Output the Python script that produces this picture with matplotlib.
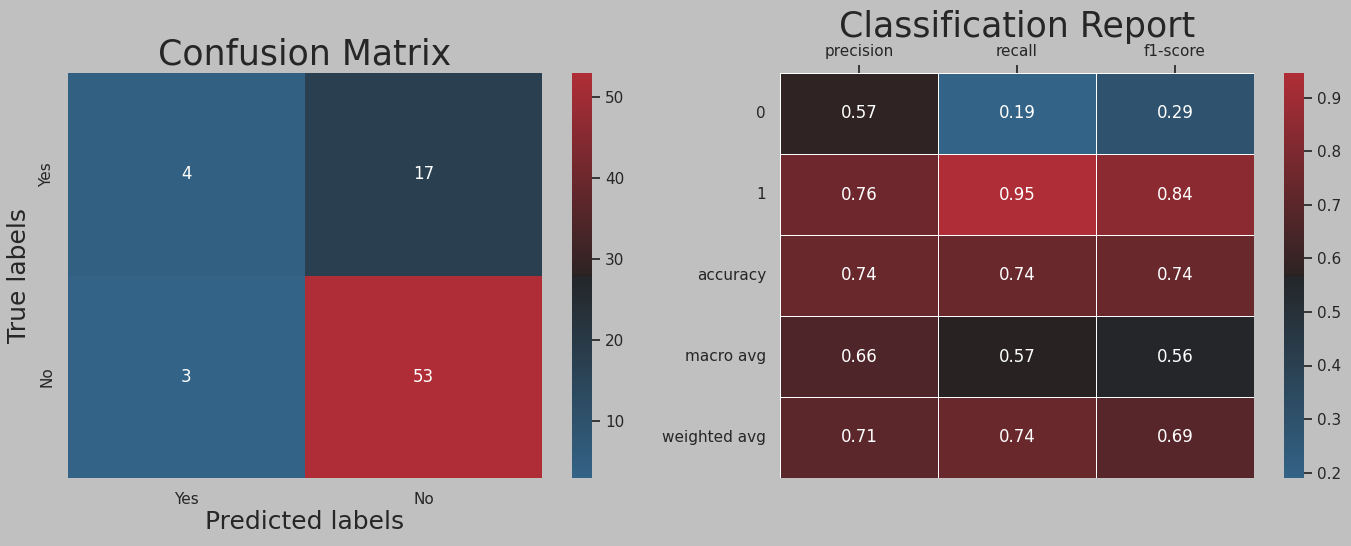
import numpy as np
import pandas as pd
import seaborn as sns
import matplotlib.pyplot as plt

# confusion matrix values
cm_labels = ["Yes", "No"]
cm_values = [[4, 17],
             [3, 53]]

# classification report values (shown rounded to 2 decimals)
report_rows = ["0", "1", "accuracy", "macro avg", "weighted avg"]
report_cols = ["precision", "recall", "f1-score"]
report_values = [[0.571, 0.190, 0.286],
                 [0.757, 0.946, 0.841],
                 [0.740, 0.740, 0.740],
                 [0.664, 0.569, 0.563],
                 [0.706, 0.740, 0.690]]

sns.set_theme(style="ticks")
plt.rcParams["font.family"] = ["DejaVu Sans"]
plt.rcParams["figure.facecolor"] = "#c0c0c0"
plt.rcParams["axes.facecolor"] = "#c0c0c0"

cmap = sns.diverging_palette(240, 10, s=75, l=40, center="dark", as_cmap=True)

fig = plt.figure(figsize=(13.51, 5.46), dpi=100)
W, H = 1351, 546

def box(x0, y0, x1, y1):
    return [x0 / W, 1 - y1 / H, (x1 - x0) / W, (y1 - y0) / H]

ax1 = fig.add_axes(box(68, 73, 542, 478))
cax1 = fig.add_axes(box(572, 73, 592, 478))
ax2 = fig.add_axes(box(780, 73, 1254, 478))
cax2 = fig.add_axes(box(1284, 73, 1304, 478))

cm_df = pd.DataFrame(cm_values, index=cm_labels, columns=cm_labels)
sns.heatmap(cm_df, annot=True, fmt="d", cmap=cmap, ax=ax1, cbar_ax=cax1,
            annot_kws={"size": 12})
ax1.set_title("Confusion Matrix", fontsize=25, pad=6)
ax1.set_xlabel("Predicted labels", fontsize=18, labelpad=2)
ax1.set_ylabel("True labels", fontsize=18, labelpad=6)
ax1.tick_params(length=0, labelsize=11, pad=10)
plt.setp(ax1.get_yticklabels(), rotation=90, va="center")

rep_df = pd.DataFrame(report_values, index=report_rows, columns=report_cols)
sns.heatmap(rep_df, annot=True, fmt=".2f", cmap=cmap, ax=ax2, cbar_ax=cax2,
            linewidths=0.5, linecolor="white", annot_kws={"size": 12})
ax2.set_title("Classification Report", fontsize=25, pad=26)
ax2.xaxis.tick_top()
ax2.tick_params(axis="x", length=6, width=1.25, labelsize=11, pad=4)
ax2.tick_params(axis="y", length=0, labelsize=11, pad=10)
plt.setp(ax2.get_yticklabels(), rotation=0)

for cax in (cax1, cax2):
    cax.tick_params(length=6, width=1.25, labelsize=11)
    for s in cax.spines.values():
        s.set_visible(False)

fig.savefig("out.png", dpi=100, facecolor=fig.get_facecolor())
